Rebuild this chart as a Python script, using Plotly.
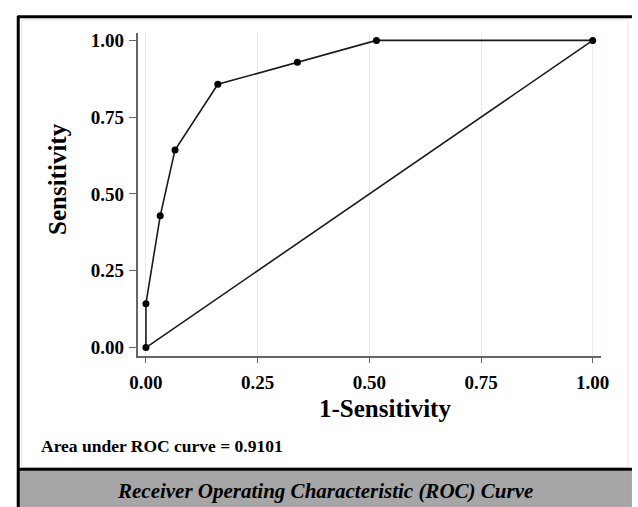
import plotly.graph_objects as go

# ROC data
fpr = [0.0, 0.0, 0.032, 0.065, 0.161, 0.339, 0.516, 1.0]
tpr = [0.0, 0.143, 0.429, 0.643, 0.857, 0.929, 1.0, 1.0]
ref_x = [0.0, 1.0]
ref_y = [0.0, 1.0]
tick_vals = [0.0, 0.25, 0.5, 0.75, 1.0]
tick_text = ["0.00", "0.25", "0.50", "0.75", "1.00"]
auc_text = "Area under ROC curve = 0.9101"
caption = "Receiver Operating Characteristic (ROC) Curve"

W, H = 638, 507
FONT = "Liberation Serif"

fig = go.Figure()
fig.add_trace(go.Scatter(x=fpr, y=tpr, mode="lines+markers",
                         line=dict(color="#1a1a1a", width=1.6),
                         marker=dict(color="black", size=7),
                         showlegend=False, hoverinfo="skip"))
fig.add_trace(go.Scatter(x=ref_x, y=ref_y, mode="lines",
                         line=dict(color="#1a1a1a", width=1.6),
                         showlegend=False, hoverinfo="skip"))

def px(x):
    return x / W

def py(y):
    return 1 - y / H

shapes = [
    dict(type="rect", xref="paper", yref="paper", x0=px(10), x1=px(640), y0=py(509), y1=py(472),
         fillcolor="#a6a6a6", line=dict(width=0), layer="below"),
    dict(type="rect", xref="paper", yref="paper", x0=px(14), x1=px(636), y0=py(469), y1=py(17),
         fillcolor="rgba(0,0,0,0)", line=dict(color="#e4e4e4", width=1), layer="below"),
    dict(type="line", xref="paper", yref="paper", x0=px(10), x1=px(640), y0=py(14), y1=py(14),
         line=dict(color="black", width=3)),
    dict(type="line", xref="paper", yref="paper", x0=px(10), x1=px(640), y0=py(471), y1=py(471),
         line=dict(color="black", width=3)),
    dict(type="line", xref="paper", yref="paper", x0=px(10.5), x1=px(10.5), y0=py(13), y1=py(509),
         line=dict(color="black", width=3)),
]

annotations = [
    dict(text="<b>Sensitivity</b>", xref="paper", yref="paper", x=px(51), y=py(178),
         textangle=-90, showarrow=False, font=dict(family=FONT, size=25, color="black"),
         xanchor="center", yanchor="middle"),
    dict(text="<b>1-Sensitivity</b>", xref="paper", yref="paper", x=px(387), y=py(410),
         showarrow=False, font=dict(family=FONT, size=25, color="black"),
         xanchor="center", yanchor="middle"),
    dict(text="<b>" + auc_text + "</b>", xref="paper", yref="paper", x=px(32), y=py(447),
         showarrow=False, font=dict(family=FONT, size=17.5, color="black"),
         xanchor="left", yanchor="middle"),
    dict(text="<b><i>" + caption + "</i></b>", xref="paper", yref="paper", x=px(325), y=py(493),
         showarrow=False, font=dict(family=FONT, size=21, color="black"),
         xanchor="center", yanchor="middle"),
]

bold_ticks = ["<b>" + t + "</b>" for t in tick_text]

x0p, x1p = 133, 608
y0p, y1p = 30, 357
fig.update_layout(
    width=W, height=H,
    margin=dict(l=0, r=0, t=0, b=0),
    paper_bgcolor="white", plot_bgcolor="white",
    shapes=shapes, annotations=annotations,
    xaxis=dict(domain=[px(x0p), px(x1p)], range=[-0.0185, 1.018],
               tickvals=tick_vals, ticktext=bold_ticks,
               tickfont=dict(family=FONT, size=19, color="black"),
               ticks="outside", ticklen=5, tickcolor="#666", tickwidth=1.2,
               showgrid=True, gridcolor="#e6edef", gridwidth=1,
               showline=True, linecolor="#666", linewidth=1.5,
               zeroline=False, ticklabelstandoff=3, fixedrange=True),
    yaxis=dict(domain=[py(y1p), py(y0p)], range=[-0.029, 1.025],
               tickvals=tick_vals, ticktext=bold_ticks,
               tickfont=dict(family=FONT, size=19, color="black"),
               ticks="outside", ticklen=7, tickcolor="#666", tickwidth=1.2,
               showgrid=False,
               showline=True, linecolor="#666", linewidth=1.5,
               zeroline=False, ticklabelstandoff=1, fixedrange=True),
)

fig.write_html(
    "out.html",
    config={"displayModeBar": False, "responsive": False},
    post_script="document.body.style.margin='0';document.body.style.padding='0';"
                "document.body.style.overflow='hidden';"
                "document.documentElement.style.overflow='hidden';",
)
